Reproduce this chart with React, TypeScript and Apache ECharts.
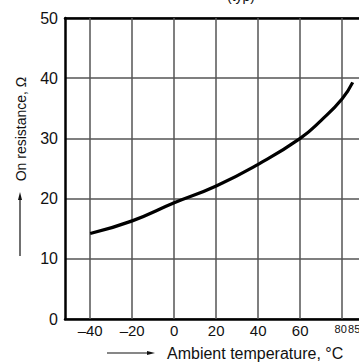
import React, { useEffect, useRef } from "react";
import * as echarts from "echarts";

const temperatures = [-40, -20, 0, 20, 40, 60, 70, 80, 85];
const resistance = [14.2, 16.3, 19.3, 22.1, 25.7, 30.0, 33.0, 36.6, 39.3];
const xTickLabels = [-40, -20, 0, 20, 40, 60, 80];
const xExtraTickLabels = [85];
const xGridValues = [-40, -20, 0, 20, 40, 60, 80];
const yTicks = { min: 0, max: 50, interval: 10 };
const xRange = { min: -52, max: 96 };

const FONT = "'Liberation Sans', Arial, Helvetica, sans-serif";
const SMALL = { fontSize: 11, fontFamily: FONT, color: "#111" };

export default function App() {
  const ref = useRef<HTMLDivElement>(null);
  useEffect(() => {
    if (!ref.current) return;
    const chart = echarts.init(ref.current, undefined, { renderer: "svg" });
    const data = temperatures.map((t, i) => [t, resistance[i]]);
    const fmt = (v: number) => {
      if (v === 80) return "{a|" + v + "}";
      if (v > 80) return "{b|" + v + "}";
      return v < 0 ? "\u2013" + Math.abs(v) : String(v);
    };
    const rich = {
      a: { ...SMALL, padding: [0, 3, 0, 0] },
      b: { ...SMALL, padding: [0, 0, 0, 3] },
    };
    chart.setOption({
      animation: false,
      backgroundColor: "#fff",
      textStyle: { fontFamily: FONT },
      grid: { left: 65, top: 18, height: 301, width: (xRange.max - xRange.min) * 2.1 },
      xAxis: [
        {
          type: "value",
          min: xRange.min,
          max: xRange.max,
          axisLine: { show: true, onZero: false, lineStyle: { color: "#000", width: 2.5 } },
          axisTick: { show: false },
          splitLine: { show: false },
          axisLabel: {
            customValues: xTickLabels,
            margin: 4,
            color: "#111",
            fontSize: 15,
            fontFamily: FONT,
            formatter: fmt,
            rich,
          },
        },
        {
          type: "value",
          position: "top",
          min: xRange.min,
          max: xRange.max,
          axisLine: { show: true, onZero: false, lineStyle: { color: "#000", width: 2.5 } },
          axisTick: { show: false },
          axisLabel: { show: false },
          splitLine: { show: false },
        },
        {
          type: "value",
          position: "bottom",
          min: xRange.min,
          max: xRange.max,
          axisLine: { show: false, onZero: false },
          axisTick: { show: false },
          splitLine: { show: false },
          axisLabel: {
            customValues: xExtraTickLabels,
            margin: 4,
            color: "#111",
            fontSize: 15,
            fontFamily: FONT,
            formatter: fmt,
            rich,
          },
        },
      ],
      yAxis: {
        type: "value",
        min: yTicks.min,
        max: yTicks.max,
        interval: yTicks.interval,
        axisLine: { show: true, onZero: false, lineStyle: { color: "#000", width: 2.5 } },
        axisTick: { show: false },
        splitLine: { show: true, lineStyle: { color: "#555", width: 1.5 } },
        axisLabel: { margin: 7, color: "#111", fontSize: 16, fontFamily: FONT },
      },
      series: [
        {
          type: "line",
          data,
          smooth: true,
          symbol: "none",
          lineStyle: { color: "#000", width: 3.2 },
          markLine: {
            silent: true,
            symbol: "none",
            label: { show: false },
            lineStyle: { color: "#555", width: 1.5, type: "solid" },
            data: xGridValues.map((v) => ({ xAxis: v })),
          },
          z: 5,
        },
      ],
      graphic: [
        {
          type: "text",
          x: 241,
          y: 3,
          style: { text: "(typ)", fontSize: 14, fontFamily: FONT, fill: "#111", textAlign: "center", textVerticalAlign: "bottom" },
        },
        {
          type: "text",
          x: 21,
          y: 129,
          rotation: Math.PI / 2,
          style: {
            text: "On resistance, \u03A9",
            fontSize: 14,
            fontFamily: FONT,
            fill: "#111",
            textAlign: "center",
            textVerticalAlign: "middle",
          },
        },
        { type: "line", shape: { x1: 20, y1: 256, x2: 20, y2: 198 }, style: { stroke: "#111", lineWidth: 1.2 } },
        { type: "polygon", shape: { points: [[20, 192], [18, 200], [22, 200]] }, style: { fill: "#111" } },
        {
          type: "text",
          x: 167,
          y: 353,
          style: {
            text: "Ambient temperature, \u00B0C",
            fontSize: 16,
            fontFamily: FONT,
            fill: "#111",
            textAlign: "left",
            textVerticalAlign: "middle",
          },
        },
        { type: "line", shape: { x1: 107, y1: 353, x2: 149, y2: 353 }, style: { stroke: "#111", lineWidth: 1.2 } },
        { type: "polygon", shape: { points: [[155, 353], [147, 351], [147, 355]] }, style: { fill: "#111" } },
      ],
    });
    return () => chart.dispose();
  }, []);
  return (
    <div style={{ position: "fixed", left: 0, top: 0, width: 359, height: 362, overflow: "hidden", background: "#fff" }}>
      <div ref={ref} style={{ width: 380, height: 362 }} />
    </div>
  );
}
